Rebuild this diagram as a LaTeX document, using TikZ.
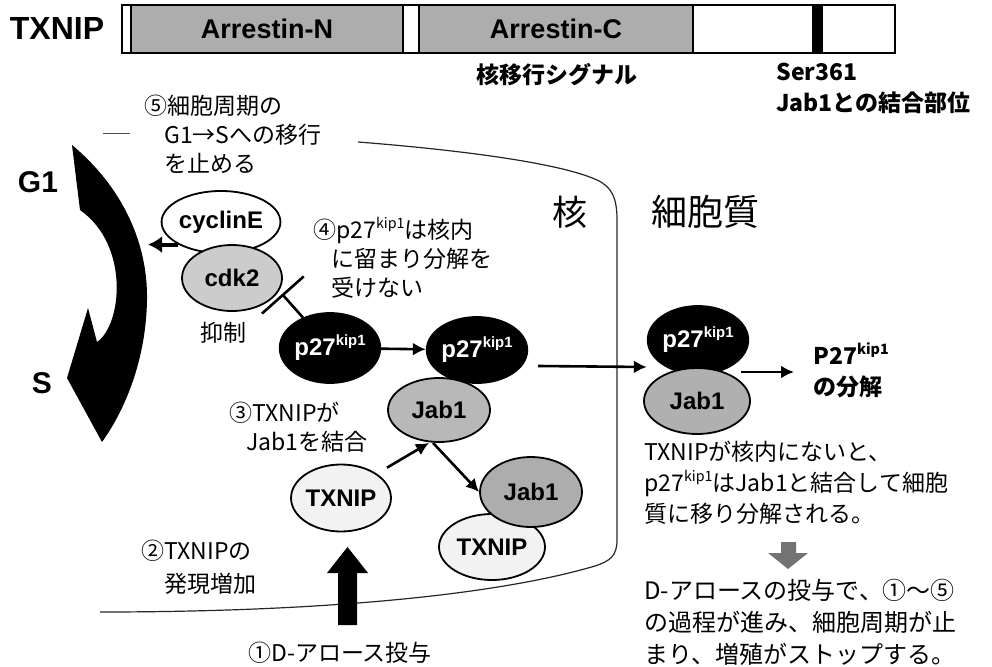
\documentclass[tikz,border=0pt]{standalone}
\usepackage{fontspec}
\setmainfont{Liberation Sans}
\newfontfamily\jp{Noto Sans CJK JP}
\usetikzlibrary{arrows.meta,shapes.geometric}

\definecolor{barg}{gray}{0.68}
\definecolor{cdkg}{gray}{0.80}
\definecolor{jabg}{gray}{0.72}
\definecolor{txg}{gray}{0.95}
\newcommand\kip{\raisebox{0.8ex}{\scalebox{0.62}{kip1}}}

\begin{document}
\begin{tikzpicture}[x=1pt,y=-1pt,
            line width=2.6pt,
            >={Latex[length=13pt,width=13pt]},
            prot/.style={ellipse,draw,line width=1.8pt,inner sep=0pt,
                         font=\bfseries\fontsize{24}{24}\selectfont},
            blk/.style={prot,fill=black,text=white},
            seg/.style={draw,line width=1.4pt,anchor=west,outer sep=0pt,
                        minimum height=48pt,inner sep=0pt,
                        font=\bfseries\fontsize{27}{27}\selectfont},
            jtxt/.style={anchor=west,align=left,inner sep=0pt,
                         font=\jp\fontsize{23}{29}\selectfont},
            jbold/.style={jtxt,font=\jp\bfseries\fontsize{23}{31}\selectfont},
            lbl/.style={font=\bfseries\fontsize{30}{30}\selectfont},
            inhib/.style={-{Bar[width=56pt]}},
            cell/.style={line width=1.2pt,black!85}]

        \useasboundingbox (0,0) rectangle (992,666);

        % domain bar
        \node[seg,minimum width=9pt]              (s1)   at (122,29)  {};
        \node[seg,minimum width=272pt,fill=barg]  (armN) at (s1.east)   {Arrestin-N};
        \node[seg,minimum width=16pt]             (s2)   at (armN.east) {};
        \node[seg,minimum width=274pt,fill=barg]  (armC) at (s2.east)   {Arrestin-C};
        \node[seg,minimum width=120pt]            (s3)   at (armC.east) {};
        \node[seg,minimum width=9pt,fill=black]   (ser)  at (s3.east)   {};
        \node[seg,minimum width=73pt]             (s4)   at (ser.east)  {};

        \node[lbl,font=\bfseries\fontsize{32}{32}\selectfont] (gene) at (57,28) {TXNIP};
        \node[jbold,anchor=center] (nls)  at (557,75) {核移行シグナル};
        \node[jbold]               (site) at (775,88) {Ser361\\Jab1との結合部位};

        % nucleus
        \draw[cell] (358,142) .. controls (460,150) and (560,163) .. (597,180)
                    .. controls (612,187) and (617,198) .. (617,220) -- (617,540)
                    .. controls (617,556) and (610,561) .. (595,566)
                    .. controls (500,594) and (330,612) .. (100,612);
        \draw[line width=1pt,black!70] (103,133) -- (130,133);

        % cell cycle
        \fill (72,145) .. controls (120,185) and (148,240) .. (147,300)
              .. controls (146,360) and (125,410) .. (102,442)
              -- (67,378) -- (88,308) -- (97,342)
              .. controls (122,325) and (130,245) .. (80,210) -- cycle;
        \node[lbl] (g1) at (38,182) {G1};
        \node[lbl] (s)  at (42,383) {S};
        \coordinate (g1s) at (148,247);

        % proteins
        \node[prot,minimum width=102pt,minimum height=62pt,fill=white] (cycE)  at (221,222) {cyclinE};
        \node[prot,minimum width=100pt,minimum height=66pt,fill=cdkg]  (cdk)   at (232,278) {cdk2};
        \node[blk, minimum width=100pt,minimum height=70pt]            (p27a)  at (330,348) {p27\kip};
        \node[blk, minimum width=100pt,minimum height=66pt]            (p27b)  at (477,350) {p27\kip};
        \node[prot,minimum width=102pt,minimum height=64pt,fill=jabg]  (jab1a) at (439,410) {Jab1};
        \node[prot,minimum width=96pt, minimum height=67pt,fill=txg]   (txa)   at (341,498) {TXNIP};
        \node[prot,minimum width=106pt,minimum height=66pt,fill=txg]   (txb)   at (492,547) {TXNIP};
        \node[prot,minimum width=102pt,minimum height=70pt,fill=jabg!94!black] (jab1b) at (531,492) {Jab1};
        \node[blk, minimum width=100pt,minimum height=68pt]            (p27c)  at (698,340) {p27\kip};
        \node[prot,minimum width=106pt,minimum height=66pt,fill=jabg!110!white] (jab1c) at (697,401) {Jab1};
        \coordinate (block) at (282,294);

        % labels
        \node[jtxt] (step5) at (143,134) {⑤細胞周期の\\\hspace*{20pt}G1→Sへの移行\\\hspace*{20pt}を止める};
        \node[jtxt] (step4) at (312,258) {④p27\kip{}は核内\\\hspace*{18pt}に留まり分解を\\\hspace*{18pt}受けない};
        \node[jtxt,anchor=center] (inh) at (223,333) {抑制};
        \node[jtxt] (step3) at (228,427) {③TXNIPが\\\hspace*{17pt}Jab1を結合};
        \node[jtxt,font=\jp\fontsize{23}{33}\selectfont] (step2) at (140,567) {②TXNIPの\\\hspace*{23pt}発現増加};
        \node[jtxt] (step1) at (247,653) {①D-アロース投与};
        \node[jtxt,anchor=center,font=\jp\fontsize{35}{35}\selectfont] (nuc)  at (570,212) {核};
        \node[jtxt,font=\jp\fontsize{36}{36}\selectfont]               (cyto) at (650,212) {細胞質};
        \node[jbold] (deg) at (812,370) {P27\kip\\の分解};
        \node[jtxt,font=\jp\fontsize{23}{31}\selectfont] (note1) at (643,483)
             {TXNIPが核内にないと、\\p27\kip{}はJab1と結合して細胞\\質に移り分解される。};
        \node[jtxt,font=\jp\fontsize{24}{32}\selectfont] (note2) at (643,622)
             {D-アロースの投与で、①～⑤\\の過程が進み、細胞周期が止\\まり、増殖がストップする。};

        % connectors
        \draw[-{Latex[length=14pt,width=17pt]},line width=4pt]
                     (cycE.south west) -- (cycE.south west -| g1s);
        \draw[inhib] (p27a) -- (block);
        \draw[->]    (p27a) -- (p27b);
        \draw[->]    ([xshift=10pt,yshift=-16pt]p27b.east) -- ([yshift=-27pt]p27c.west);
        \draw[->]    ([xshift=-8pt,yshift=-32pt]p27c.east) -- ([xshift=-18pt,yshift=-2pt]deg.west);
        \draw[->]    ([xshift=10pt,yshift=6pt]txa.north east) -- ([xshift=-10pt]jab1a.south);
        \draw[->]    ([xshift=-6pt]jab1a.south) -- (jab1b.west);

        % block arrows
        \fill (338,625) -- (338,573) -- (327,573) -- (347.5,547)
              -- (368,573) -- (357,573) -- (357,625) -- cycle;
        \fill[black!55] (781,542) -- (781,553) -- (768,553) -- (788,569)
              -- (808,553) -- (796,553) -- (796,542) -- cycle;

    \end{tikzpicture}
\end{document}
